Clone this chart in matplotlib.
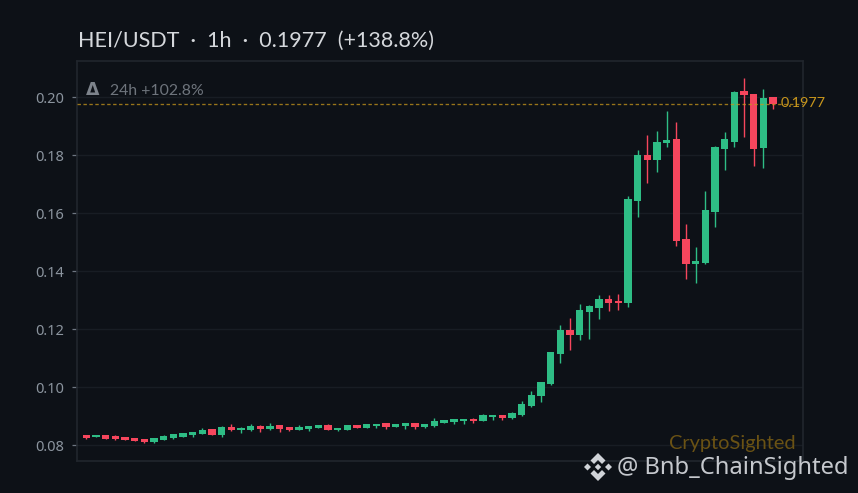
import matplotlib
matplotlib.use("Agg")
import matplotlib.pyplot as plt
from matplotlib.patches import Polygon

W, H = 858, 493
BG = "#0d1117"
UP = "#2ebd85"
DOWN = "#f6465d"
GOLD = "#c9971c"

yticks = [0.08, 0.10, 0.12, 0.14, 0.16, 0.18, 0.20]
last_price = 0.1977
title = "HEI/USDT  ·  1h  ·  0.1977  (+138.8%)"
delta_label = "24h +102.8%"
watermark = "CryptoSighted"
credit = "@ Bnb_ChainSighted"

opens = [.08356,.0829,.08356,.0832,.0829,.0825,.0822,.08115,.0818,.0825,.0829,.08356,.0839,.0856,.08356,.0863,.0853,.0853,.0867,.0856,.0870,.0863,.0853,.0856,.0860,.0870,.0853,.0853,
         .0870,.0860,.08666,.0877,.0863,.08666,.0877,.0863,.08666,.0877,.0880,.0884,.0891,.0884,.08977,.09046,.0894,.09046,.09356,.0970,.1011,
         .1115,.1198,.1180,.1260,.12735,.1305,.1298,.1291,.1642,.1801,.1784,.18425,.1856,.1511,.1425,.1429,.1604,.1822,.1846,.2022,.2011,.1825,.2001]
closes = [.0825,.08356,.0822,.0822,.0818,.0815,.08115,.0825,.0832,.0839,.08425,.0846,.0853,.08356,.0863,.0853,.0860,.0867,.0856,.0867,.0856,.0853,.0863,.0867,.0870,.0853,.0860,.0870,
          .0860,.08735,.08735,.0863,.08735,.0877,.0863,.08735,.0884,.0887,.0891,.0891,.0884,.09046,.09046,.0894,.0911,.09425,.09735,.1018,.1122,
          .1198,.1180,.1267,.1280,.1305,.1291,.1291,.1649,.1801,.1784,.1846,.1853,.15045,.1425,.14355,.1611,.1829,.1856,.2018,.2008,.1822,.1998,.1977]
highs = [.08356,.08356,.08356,.0834,.0829,.0825,.0822,.0825,.0837,.0839,.0843,.0846,.0861,.0857,.08655,.08735,.0864,.08735,.0871,.0877,.0870,.0863,.0870,.0867,.0871,.08735,.0860,.0871,
         .0871,.0875,.08735,.0877,.0875,.0877,.0877,.0875,.0894,.0887,.0891,.0891,.0894,.0908,.09046,.09046,.0915,.0953,.0987,.1018,.1122,
         .1215,.1239,.1287,.1284,.1318,.1318,.1322,.1660,.1818,.1870,.1884,.1953,.1915,.1563,.1484,.1677,.1832,.1880,.2022,.20666,.2011,.2029,.2002]
lows = [.0822,.0829,.0822,.0818,.0818,.0814,.0808,.0807,.0818,.0822,.0829,.0829,.0839,.0834,.0829,.0849,.08425,.0849,.0846,.0853,.0846,.0849,.0853,.0849,.0859,.0853,.0849,.0853,
        .0859,.0859,.0860,.0856,.0862,.0856,.0856,.0860,.0863,.0877,.08735,.08735,.0877,.0884,.0887,.0887,.0891,.0901,.0932,.0949,.1008,
        .1084,.1129,.1163,.1167,.1236,.1263,.1267,.1277,.1587,.1705,.17425,.1829,.1487,.13735,.1360,.1425,.1553,.1749,.1829,.1863,.1763,.1756,.19585]

fig = plt.figure(figsize=(W / 100, H / 100), dpi=100, facecolor=BG)
L, R, T, B = 77, 803, 60.5, 461
ax = fig.add_axes([L / W, 1 - B / H, (R - L) / W, (B - T) / H], facecolor=BG)

x = list(range(len(opens)))
colors = [UP if c >= o else DOWN for o, c in zip(opens, closes)]
ax.vlines(x, lows, highs, colors=colors, linewidth=1.0, zorder=3)
ax.bar(x, [abs(c - o) for o, c in zip(opens, closes)],
       bottom=[min(o, c) for o, c in zip(opens, closes)],
       width=0.76, color=colors, linewidth=0, zorder=4)

ax.axhline(last_price, color=GOLD, linestyle=(0, (2.6, 1.9)), linewidth=0.95, alpha=0.75, zorder=5)

ax.set_xlim(-0.96, 74.1)
ax.set_ylim(0.07459, 0.2127)
ax.set_xticks([])
ax.set_yticks(yticks)
ax.set_yticklabels([f"{t:.2f}" for t in yticks], family="Noto Sans", fontsize=10.5, color="#8b949e")
ax.tick_params(axis="y", color="#6e7681", length=3.5, width=0.9, pad=6)
ax.grid(axis="y", color="#181d24", linewidth=1.0, zorder=0)
ax.set_axisbelow(True)
for s in ax.spines.values():
    s.set_color("#21262d")
    s.set_linewidth(1.2)


def fx(px):
    return px / W


def fy(py):
    return 1 - py / H


fig.text(fx(78), fy(41), title, family="Lato", fontsize=15.5, color="#d5d8dc", va="center", ha="left")
fig.text(fx(93), fy(90), "Δ", family="DejaVu Sans", weight="bold", fontsize=12.5, color="#7d838b", va="center", ha="center")
fig.text(fx(110), fy(91), delta_label, family="Lato", fontsize=11.4, color="#6e747c", va="center", ha="left")
fig.text(fx(781), fy(103), "0.1977", family="Lato", fontsize=10.4, color=GOLD, va="center", ha="left", zorder=6)
fig.text(fx(732), fy(444), watermark, family="Lato", fontsize=14.4, color="#6a5214", va="center", ha="center")
fig.text(fx(617), fy(468), credit, family="Noto Sans", fontsize=17.1, color="#c5c8cd", va="center", ha="left")

# Binance-style logo
LOGO = "#d0d3d8"
cx, cy = 598, 467
shapes = [
    [(-14, 0), (-10.5, -3.5), (-7, 0), (-10.5, 3.5)],
    [(14, 0), (10.5, -3.5), (7, 0), (10.5, 3.5)],
    [(0, -3.2), (3.2, 0), (0, 3.2), (-3.2, 0)],
    [(0, -14), (7.5, -6.5), (4, -3), (0, -7), (-4, -3), (-7.5, -6.5)],
    [(0, 14), (7.5, 6.5), (4, 3), (0, 7), (-4, 3), (-7.5, 6.5)],
]
for s in shapes:
    fig.add_artist(Polygon([(fx(cx + a), fy(cy + b)) for a, b in s], closed=True,
                           transform=fig.transFigure, facecolor=LOGO, edgecolor="none"))

fig.savefig("out.png", dpi=100, facecolor=BG)
